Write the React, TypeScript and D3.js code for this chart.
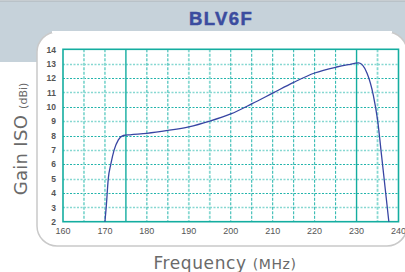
import React, { useEffect, useRef } from "react";
import * as d3 from "d3";

// curve
const freqMHz = [170, 170.3, 170.8, 171.4, 172.2, 173.2, 174.4, 176, 180, 185, 190, 195, 200, 205, 210, 215, 220, 225, 228, 230.5, 232.5, 234, 235, 236, 237.7];
const gainDbi = [2, 3, 5, 6, 7, 7.7, 8.0, 8.05, 8.15, 8.35, 8.6, 9.0, 9.5, 10.2, 10.95, 11.7, 12.35, 12.75, 12.93, 13.05, 12.34, 10.8, 9.1, 6.5, 2];

const xTicks = [160, 170, 180, 190, 200, 210, 220, 230, 240];
const yTicks = [2, 3, 4, 5, 6, 7, 8, 9, 10, 11, 12, 13, 14];
const xGrid = [165, 170, 175, 180, 185, 190, 195, 200, 205, 210, 215, 220, 225, 230, 235];
const solidX = [175, 230];
const lightX = [165, 170, 190, 195, 235];

const title = "BLV6F";

const App = () => {
  const svgRef = useRef<SVGSVGElement>(null);

  useEffect(() => {
    const W = 405,
      H = 272;
    const svg = d3.select(svgRef.current);
    svg.selectAll("*").remove();
    svg.attr("width", W).attr("height", H);

    // header band
    svg.append("rect").attr("x", 0).attr("y", 1).attr("width", W).attr("height", 61).attr("fill", "#c6d2da");
    svg.append("line").attr("x1", 0).attr("x2", W).attr("y1", 1).attr("y2", 1).attr("stroke", "#b4bcc2").attr("stroke-width", 1.5);

    // white panel
    svg
      .append("rect")
      .attr("x", 37)
      .attr("y", 32)
      .attr("width", 370)
      .attr("height", 214)
      .attr("rx", 20)
      .attr("fill", "#fff")
      .attr("stroke", "#c9c9c9")
      .attr("stroke-width", 1.5);
    // hide border where panel sits on the grey header
    svg.append("rect").attr("x", 52).attr("y", 31).attr("width", 340).attr("height", 2).attr("fill", "#fff");

    svg
      .append("text")
      .attr("x", 221)
      .attr("y", 24.5)
      .attr("text-anchor", "middle")
      .attr("font-family", "Liberation Sans, Arial, sans-serif")
      .attr("font-weight", "bold")
      .attr("font-size", 18.5)
      .attr("letter-spacing", 1.4)
      .attr("fill", "#3b4c9f")
      .attr("stroke", "#3b4c9f")
      .attr("stroke-width", 0.5)
      .text(title);

    const x = d3.scaleLinear().domain([160, 240]).range([63, 398.5]);
    const y = d3.scaleLinear().domain([2, 14]).range([221.7, 49.3]);

    const g = svg.append("g");

    // horizontal grid
    g.selectAll("line.h")
      .data(yTicks.filter((d) => d > 2 && d < 14))
      .join("line")
      .attr("x1", x(160))
      .attr("x2", x(240))
      .attr("y1", (d) => Math.round(y(d)) + 0.5)
      .attr("y2", (d) => Math.round(y(d)) + 0.5)
      .attr("stroke", (d) => (d % 2 ? "#86d8d1" : "#22b4ab"))
      .attr("stroke-width", (d) => (d % 2 ? 1.6 : 1))
      .attr("stroke-dasharray", "2,1.5");

    // vertical grid
    g.selectAll("line.v")
      .data(xGrid)
      .join("line")
      .attr("x1", (d) => x(d))
      .attr("x2", (d) => x(d))
      .attr("y1", y(14))
      .attr("y2", y(2))
      .attr("stroke", (d) => (solidX.includes(d) ? "#14ada0" : lightX.includes(d) ? "#86d8d1" : "#22b4ab"))
      .attr("stroke-width", (d) => (solidX.includes(d) ? 1.4 : lightX.includes(d) ? 1.8 : 1))
      .attr("stroke-dasharray", (d) => (solidX.includes(d) ? null : "3,1.5"));

    // frame
    g.append("rect")
      .attr("x", x(160))
      .attr("y", y(14))
      .attr("width", x(240) - x(160))
      .attr("height", y(2) - y(14))
      .attr("fill", "none")
      .attr("stroke", "#14ada0")
      .attr("stroke-width", 1.6);

    // tick labels
    g.selectAll("text.y")
      .data(yTicks)
      .join("text")
      .attr("x", 56)
      .attr("y", (d) => y(d) + 3.2)
      .attr("text-anchor", "end")
      .attr("font-family", "Liberation Sans, Arial, sans-serif")
      .attr("font-weight", "bold")
      .attr("font-size", 8.5)
      .attr("fill", "#555")
      .text((d) => d);

    g.selectAll("text.x")
      .data(xTicks)
      .join("text")
      .attr("x", (d) => x(d))
      .attr("y", 234)
      .attr("text-anchor", "middle")
      .attr("font-family", "Liberation Sans, Arial, sans-serif")
      .attr("font-size", 9)
      .attr("fill", "#555")
      .text((d) => d);

    // curve
    const pts = freqMHz.map((f, i) => [f, gainDbi[i]] as [number, number]);
    const line = d3
      .line<[number, number]>()
      .x((d) => x(d[0]))
      .y((d) => y(d[1]))
      .curve(d3.curveMonotoneX);
    g.append("path").attr("d", line(pts)).attr("fill", "none").attr("stroke", "#3845a3").attr("stroke-width", 1.3);

    // axis titles
    const yl = svg
      .append("text")
      .attr("transform", "translate(27,139) rotate(-90)")
      .attr("text-anchor", "middle")
      .attr("font-family", "DejaVu Sans")
      .attr("fill", "#6a6a6a");
    yl.append("tspan").attr("font-size", 18).attr("letter-spacing", 0.3).text("Gain ISO ");
    yl.append("tspan").attr("font-size", 11).text("(dBi)");

    const xl = svg
      .append("text")
      .attr("x", 225)
      .attr("y", 269)
      .attr("text-anchor", "middle")
      .attr("font-family", "DejaVu Sans")
      .attr("fill", "#6a6a6a");
    xl.append("tspan").attr("font-size", 17).attr("letter-spacing", 0.6).text("Frequency ");
    xl.append("tspan").attr("font-size", 14).attr("letter-spacing", 0.6).text("(MHz)");
  }, []);

  return <svg ref={svgRef} style={{ position: "absolute", left: 0, top: 0 }}></svg>;
};

export default App;
